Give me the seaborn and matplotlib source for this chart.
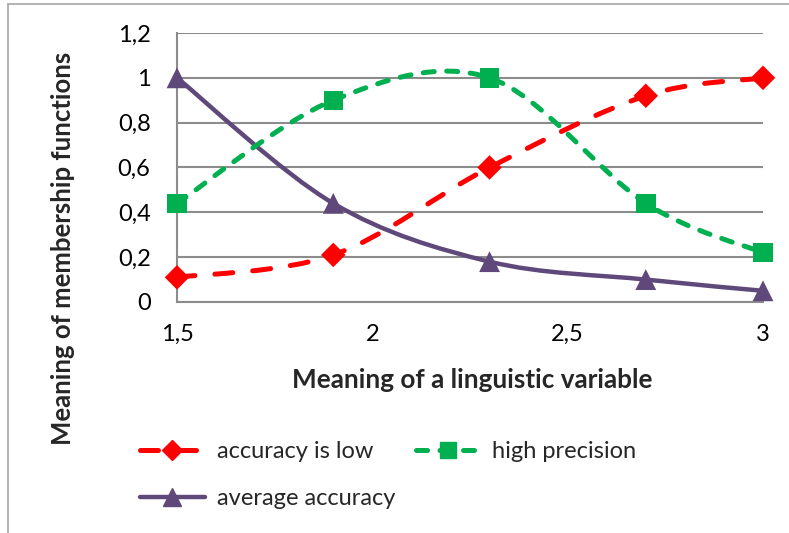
import numpy as np
import pandas as pd
import matplotlib
matplotlib.use("Agg")
import matplotlib.pyplot as plt
from matplotlib.path import Path
from matplotlib.patches import PathPatch
from matplotlib.lines import Line2D
from matplotlib.ticker import FuncFormatter, MultipleLocator
import seaborn as sns

# Linguistic variable values and membership degrees
x_values = [1.5, 1.9, 2.3, 2.7, 3.0]
accuracy_low = [0.11, 0.21, 0.60, 0.92, 1.00]
high_precision = [0.44, 0.90, 1.00, 0.44, 0.22]
average_accuracy = [1.00, 0.44, 0.18, 0.10, 0.05]

series_names = ["accuracy is low", "high precision", "average accuracy"]
x_ticks = [1.5, 2.0, 2.5, 3.0]
y_ticks = [0, 0.2, 0.4, 0.6, 0.8, 1.0, 1.2]

styles = {
    "accuracy is low": dict(color="#FF0000", marker="D", ms=12.5, lw=3.6,
                            dash=(0, (3.6, 4.0))),
    "high precision": dict(color="#00B050", marker="s", ms=14, lw=3.6,
                           dash=(0, (2.2, 2.5))),
    "average accuracy": dict(color="#5F497A", marker="^", ms=15, lw=3.2,
                             dash="solid"),
}

df = pd.DataFrame({
    "x": x_values * 3,
    "y": accuracy_low + high_precision + average_accuracy,
    "series": [n for n in series_names for _ in x_values],
})

sns.set_theme(style="white")
plt.rcParams["font.family"] = ["Lato", "DejaVu Sans"]

fig = plt.figure(figsize=(7.89, 5.33), dpi=100)
ax = fig.add_axes([177 / 789, 1 - 302 / 533, (763 - 177) / 789, (302 - 33) / 533])


def smooth_path(xs, ys):
    """Cubic Bezier path through the points (Catmull-Rom style smoothing)."""
    pts = np.column_stack([xs, ys]).astype(float)
    ext = np.vstack([pts[0], pts, pts[-1]])
    verts = [pts[0]]
    codes = [Path.MOVETO]
    for i in range(1, len(ext) - 2):
        p0, p1, p2, p3 = ext[i - 1], ext[i], ext[i + 1], ext[i + 2]
        c1 = p1 + (p2 - p0) / 6.0
        c2 = p2 - (p3 - p1) / 6.0
        verts += [c1, c2, p2]
        codes += [Path.CURVE4] * 3
    return Path(verts, codes)


# draw order: purple first, then red, green on top
for name in ["average accuracy", "accuracy is low", "high precision"]:
    st = styles[name]
    sub = df[df["series"] == name]
    patch = PathPatch(smooth_path(sub["x"].values, sub["y"].values),
                      facecolor="none", edgecolor=st["color"], lw=st["lw"],
                      linestyle=st["dash"], capstyle="round", joinstyle="round",
                      zorder=3)
    ax.add_patch(patch)
    sns.scatterplot(data=sub, x="x", y="y", ax=ax, marker=st["marker"],
                    s=st["ms"] ** 2, color=st["color"], edgecolor="none",
                    linewidth=0, zorder=4, legend=False, clip_on=False)

ax.set_xlim(1.5, 3.0)
ax.set_ylim(0, 1.2)
ax.set_xticks(x_ticks)
ax.yaxis.set_major_locator(MultipleLocator(0.2))

fmt = FuncFormatter(lambda v, p: f"{v:g}".replace(".", ","))
ax.xaxis.set_major_formatter(fmt)
ax.yaxis.set_major_formatter(fmt)
ax.tick_params(axis="both", length=0, labelsize=17, colors="black")
ax.tick_params(axis="x", pad=16)
ax.tick_params(axis="y", pad=19)

ax.grid(axis="y", color="#8C8C8C", lw=1.5)
ax.grid(axis="x", visible=False)
ax.set_axisbelow(True)
for side in ["top", "right"]:
    ax.spines[side].set_visible(False)
for side in ["left", "bottom"]:
    ax.spines[side].set_color("#8C8C8C")
    ax.spines[side].set_linewidth(1.5)

ax.set_xlabel("")
ax.set_ylabel("")
fig.text(472 / 789, 1 - 380 / 533, "Meaning of a linguistic variable",
         ha="center", va="center", fontsize=18.8, fontweight="bold")
fig.text(63 / 789, 1 - 248 / 533, "Meaning of membership functions",
         ha="center", va="center", rotation=90, fontsize=18.5, fontweight="bold")

handles = []
for name in ["accuracy is low", "average accuracy", "high precision"]:
    st = styles[name]
    handles.append(Line2D([], [], color=st["color"], lw=st["lw"],
                          linestyle=st["dash"], marker=st["marker"],
                          markersize=st["ms"] * 0.85, dash_capstyle="round",
                          solid_capstyle="round"))
fig.legend(handles, ["accuracy is low", "average accuracy", "high precision"],
           ncol=2, loc="upper left", bbox_to_anchor=(140 / 789, 1 - 441 / 533),
           frameon=False, fontsize=17, handlelength=2.75, handletextpad=0.5,
           columnspacing=0.87, labelspacing=1.1, borderaxespad=0,
           borderpad=0)

# chart frame
fig.add_artist(Line2D([8 / 789, 8 / 789], [0, 1 - 4 / 533], color="#A6A6A6",
                      lw=1.2, transform=fig.transFigure))
fig.add_artist(Line2D([8 / 789, 1], [1 - 4 / 533, 1 - 4 / 533], color="#A6A6A6",
                      lw=1.2, transform=fig.transFigure))

fig.savefig("out.png", dpi=100)
